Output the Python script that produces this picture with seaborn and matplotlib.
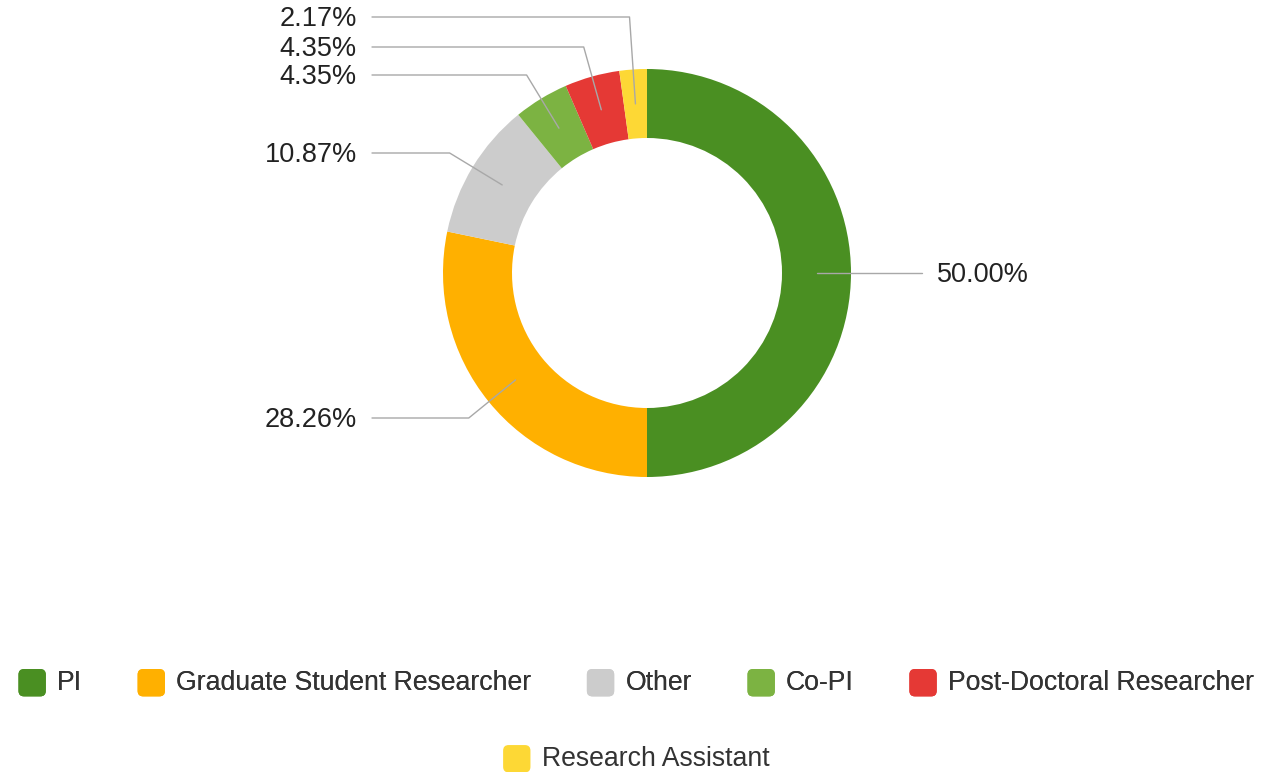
import numpy as np
import matplotlib
matplotlib.use('Agg')
import matplotlib.pyplot as plt
from matplotlib.patches import FancyBboxPatch
from matplotlib.legend_handler import HandlerPatch
import seaborn as sns

sns.set_theme(style='white')
plt.rcParams['font.family'] = ['Liberation Sans', 'DejaVu Sans']

roles = ['PI', 'Graduate Student Researcher', 'Other', 'Co-PI',
         'Post-Doctoral Researcher', 'Research Assistant']
shares = [50.00, 28.26, 10.87, 4.35, 4.35, 2.17]
colors = ['#4a8f22', '#ffb000', '#cccccc', '#7cb342', '#e53935', '#fdd835']

# label rows (pixels from top) for the callouts
label_y = [273, 418, 153, 75, 47, 17]

W, H = 1270, 772
cx, cy = 647, H - 273
r_out, r_in = 204, 135

fig = plt.figure(figsize=(W / 100, H / 100), dpi=100)
ax = fig.add_axes([0, 0, 1, 1])
wedges, _ = ax.pie(shares, colors=colors, startangle=90, counterclock=False,
                   radius=r_out, center=(cx, cy),
                   wedgeprops=dict(width=r_out - r_in, linewidth=0))
ax.set_xlim(0, W)
ax.set_ylim(0, H)
ax.set_aspect('equal')
ax.axis('off')

r_mid = (r_out + r_in) / 2
for w, val, py in zip(wedges, shares, label_y):
    ang = np.deg2rad((w.theta1 + w.theta2) / 2)
    dx, dy = np.cos(ang), np.sin(ang)
    x0, y0 = cx + r_mid * dx, cy + r_mid * dy
    ty = H - py
    if abs(dy) > 1e-6:
        s = (ty - y0) / dy
        ex, ey = x0 + s * dx, ty
    else:
        ex, ey = x0, y0
    txt = f'{val:.2f}%'
    if dx > 0:
        ax.plot([x0, ex, 922], [y0, ey, ey], color='#a8a8a8', lw=1)
        ax.text(937, ey - 2, txt, ha='left', va='center', fontsize=19.5, color='#222222')
    else:
        ax.plot([x0, ex, 372], [y0, ey, ey], color='#a8a8a8', lw=1)
        ax.text(357, ey - 2, txt, ha='right', va='center', fontsize=19.5, color='#222222')


class RoundBox(HandlerPatch):
    def create_artists(self, legend, orig_handle, xdescent, ydescent,
                       width, height, fontsize, trans):
        size = min(width, height)
        p = FancyBboxPatch((-xdescent + (width - size) / 2, -ydescent + height / 2 - size / 2 - 1),
                           size, size,
                           boxstyle='round,pad=0,rounding_size=4',
                           facecolor=orig_handle.get_facecolor(), edgecolor='none',
                           transform=trans)
        return [p]


handles = [plt.Rectangle((0, 0), 1, 1, color=c) for c in colors]
leg_kw = dict(frameon=False, fontsize=19.2, handlelength=1.2, handleheight=1.2,
              handletextpad=0.33, columnspacing=2.0, borderpad=0, borderaxespad=0,
              handler_map={plt.Rectangle: RoundBox()}, labelcolor='#333333')
leg1 = fig.legend(handles[:5], roles[:5], ncol=5, loc='center',
                  bbox_to_anchor=(0.5, 1 - 682 / H), **leg_kw)
fig.add_artist(leg1)
fig.legend(handles[5:], roles[5:], ncol=1, loc='center',
           bbox_to_anchor=(0.5, 1 - 758 / H), **leg_kw)

fig.savefig('out.png', dpi=100, facecolor='white')
